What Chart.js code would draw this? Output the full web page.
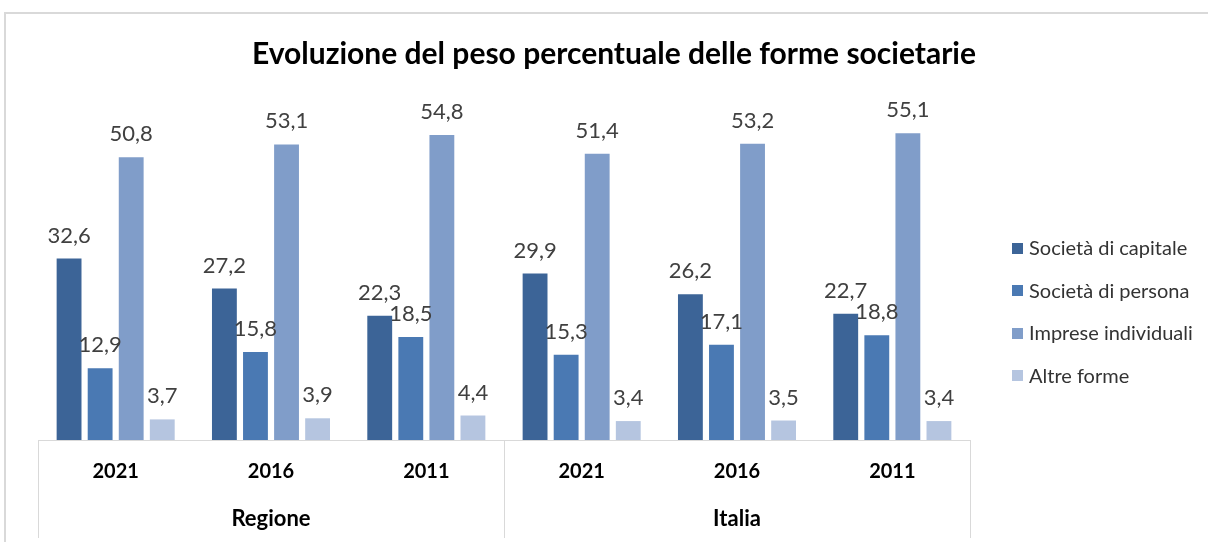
<!DOCTYPE html>
<html><head><meta charset="utf-8">
<script src="https://cdn.jsdelivr.net/npm/chart.js@4/dist/chart.umd.min.js"></script>
<style>html,body{margin:0;padding:0;background:#fff;}#wrap{width:1208px;height:542px;position:relative;}</style>
</head><body><div id="wrap"><canvas id="c" width="1208" height="542"></canvas></div>
<script>
const years = ['2021','2016','2011','2021','2016','2011'];
const groups = ['Regione','Italia'];
const seriesNames = ['Società di capitale','Società di persona','Imprese individuali','Altre forme'];
const capitale = [32.6, 27.2, 22.3, 29.9, 26.2, 22.7];
const persona = [12.9, 15.8, 18.5, 15.3, 17.1, 18.8];
const individuali = [50.8, 53.1, 54.8, 51.4, 53.2, 55.1];
const altre = [3.7, 3.9, 4.4, 3.4, 3.5, 3.4];
const colors = ['#3C6497','#4A79B3','#809DC9','#B5C5E0'];
const FONT = 'Lato, "Liberation Sans", sans-serif';

const framePlugin = {
  id:'frame',
  beforeDraw(chart){
    const ctx = chart.ctx;
    ctx.save();
    ctx.fillStyle='#fff'; ctx.fillRect(0,0,chart.width,chart.height);
    ctx.strokeStyle='#d9d9d9'; ctx.lineWidth=2;
    ctx.beginPath(); ctx.moveTo(5,542); ctx.lineTo(5,13); ctx.lineTo(1208,13); ctx.stroke();
    ctx.restore();
  },
  afterDraw(chart){
    const ctx = chart.ctx, x = chart.scales.x, a = chart.chartArea;
    ctx.save();
    ctx.strokeStyle='#d9d9d9'; ctx.lineWidth=1;
    [-0.5, 2.5, 5.5].forEach(v=>{
      const px = Math.round(x.getPixelForValue(v))+0.5;
      ctx.beginPath(); ctx.moveTo(px, a.bottom); ctx.lineTo(px, 538); ctx.stroke();
    });
    // legend
    ctx.font = '20px ' + FONT;
    ctx.textAlign='left'; ctx.textBaseline='middle';
    chart.data.datasets.forEach((ds,i)=>{
      const cy = 248 + i*42.5;
      ctx.fillStyle = ds.backgroundColor;
      ctx.fillRect(1012, Math.round(cy-5.5), 11, 11);
      ctx.fillStyle = '#333';
      ctx.fillText(ds.label, 1029, cy+1);
    });
    ctx.restore();
  }
};
const labelPlugin = {
  id:'vlabels',
  afterDatasetsDraw(chart){
    const ctx = chart.ctx;
    ctx.save();
    ctx.font = '22px ' + FONT;
    ctx.fillStyle = '#404040';
    ctx.textAlign='center'; ctx.textBaseline='alphabetic';
    chart.data.datasets.forEach((ds,i)=>{
      const meta = chart.getDatasetMeta(i);
      meta.data.forEach((el,j)=>{
        ctx.fillText(ds.data[j].toFixed(1).replace('.',','), el.x, el.y-16);
      });
    });
    ctx.restore();
  }
};

const seriesData = [capitale, persona, individuali, altre];
new Chart(document.getElementById('c'), {
  type:'bar',
  data:{
    labels: years,
    datasets: seriesNames.map((n,i)=>({label:n, data:seriesData[i], backgroundColor:colors[i], borderWidth:0, categoryPercentage:0.8, barPercentage:0.8}))
  },
  options:{
    responsive:false, animation:false,
    layout:{padding:{left:20, right:0, bottom:0, top:0}},
    plugins:{
      title:{display:true, text:'Evoluzione del peso percentuale delle forme societarie', color:'#000', font:{family:FONT, size:30, weight:'bold'}, padding:{top:36, bottom:34}},
      legend:{display:false},
      tooltip:{enabled:false}
    },
    scales:{
      y:{display:true, min:0, max:60, ticks:{display:false}, grid:{display:false}, border:{display:false}, afterFit(s){s.width=18;}},
      y2:{display:true, position:'right', min:0, max:60, ticks:{display:false}, grid:{display:false}, border:{display:false}, afterFit(s){s.width=238;}},
      x:{
        grid:{display:true, drawOnChartArea:false, drawTicks:false, color:'#d9d9d9'},
        border:{display:true, color:'#d9d9d9'},
        ticks:{color:'#000', font:{family:FONT, size:20, weight:'bold'}, padding:20},
        afterFit(s){s.height=46;}
      },
      x2:{
        type:'category', labels:groups, position:'bottom', offset:true,
        grid:{display:false, drawTicks:false}, border:{display:false},
        ticks:{color:'#000', font:{family:FONT, size:22, weight:'bold'}, padding:20},
        afterFit(s){s.height=56;}
      }
    }
  },
  plugins:[framePlugin, labelPlugin]
});
</script></body></html>
